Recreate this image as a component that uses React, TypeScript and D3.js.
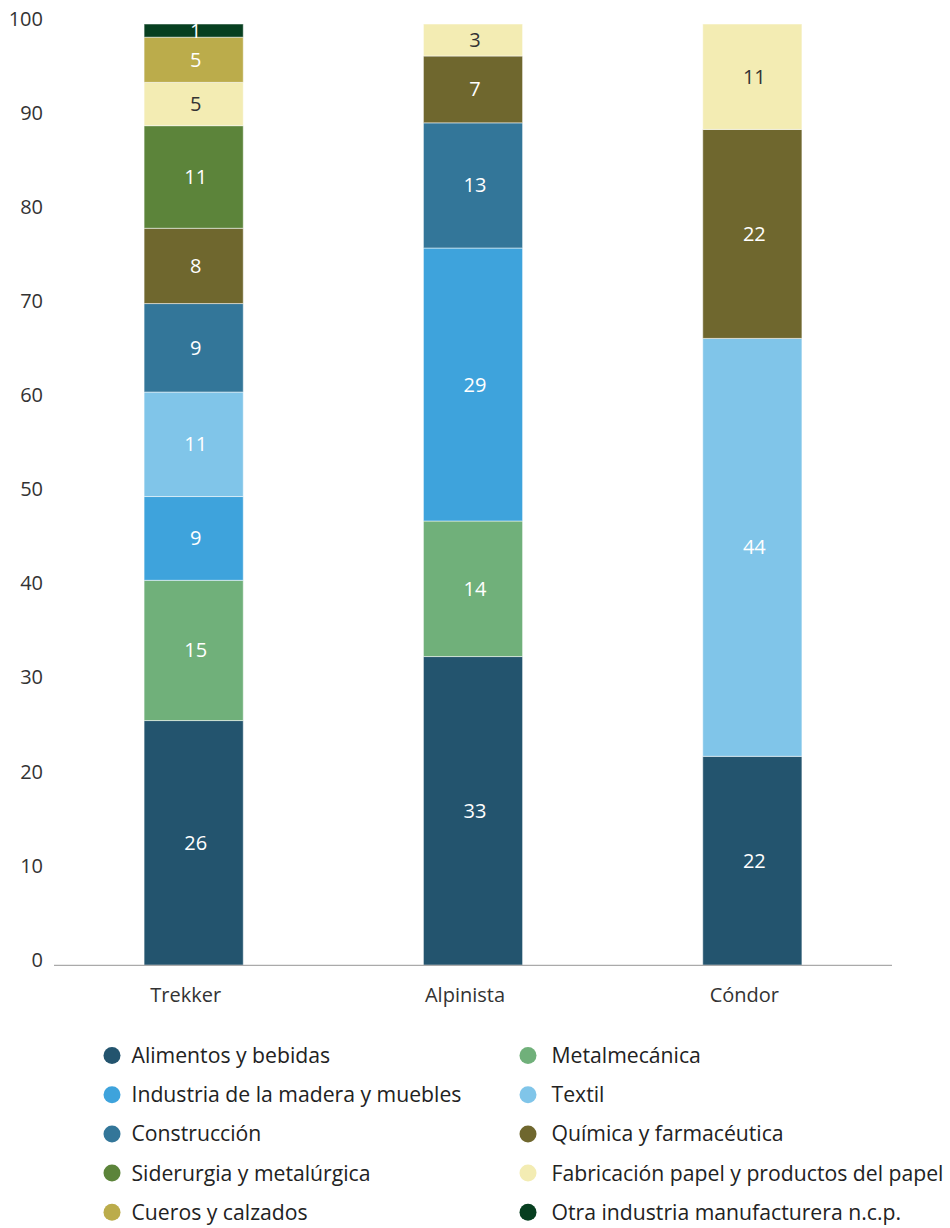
import React from "react";
import * as d3 from "d3";

const categories = ["Trekker", "Alpinista", "Cóndor"];

const sectors = [
  "Alimentos y bebidas",
  "Metalmecánica",
  "Industria de la madera y muebles",
  "Textil",
  "Construcción",
  "Química y farmacéutica",
  "Siderurgia y metalúrgica",
  "Fabricación papel y productos del papel",
  "Cueros y calzados",
  "Otra industria manufacturera n.c.p.",
];

const sectorColors = [
  "#23546e",
  "#70b07a",
  "#3ea3dc",
  "#80c5e9",
  "#337699",
  "#6f672e",
  "#5c843a",
  "#f3ecb3",
  "#bbac4b",
  "#073f20",
];

// values per sector, in order of categories [Trekker, Alpinista, Cóndor]
const alimentos = [26.0, 32.8, 22.2];
const metalmecanica = [14.9, 14.4, 0];
const madera = [8.9, 29.0, 0];
const textil = [11.1, 0, 44.4];
const construccion = [9.4, 13.3, 0];
const quimica = [8.0, 7.1, 22.2];
const siderurgia = [10.9, 0, 0];
const papel = [4.6, 3.4, 11.2];
const cueros = [4.8, 0, 0];
const otra = [1.4, 0, 0];

const seriesValues = [alimentos, metalmecanica, madera, textil, construccion, quimica, siderurgia, papel, cueros, otra];

const yTicks = [0, 10, 20, 30, 40, 50, 60, 70, 80, 90, 100];

// legend order (two columns, row-major)
const legendOrder = [0, 1, 2, 3, 4, 5, 6, 7, 8, 9];

const darkText = new Set([7]);

const FONT = "'Open Sans', 'Noto Sans', sans-serif";

export default function App() {
  const width = 950;
  const height = 1228;
  const x0 = 54;
  const x1 = 892;
  const yBottom = 965.3;
  const yTop = 24;

  const x = d3
    .scaleBand<string>()
    .domain(categories)
    .range([x0, x1])
    .paddingInner(0.645)
    .paddingOuter(0.3225);
  const y = d3.scaleLinear().domain([0, 100]).range([yBottom, yTop]);

  const rows = categories.map((c, ci) => {
    const r: any = { cat: c };
    sectors.forEach((s, si) => (r[s] = seriesValues[si][ci]));
    return r;
  });
  const stack = d3.stack<any>().keys(sectors)(rows);

  return (
    <svg
      width={width}
      height={height}
      style={{ position: "absolute", left: 0, top: 0, background: "#fff" }}
      fontFamily={FONT}
    >
      {/* y tick labels */}
      {yTicks.map((t) => (
        <text key={t} x={43} y={y(t) + 1.5} textAnchor="end" fontSize={20} fill="#333">
          {t}
        </text>
      ))}
      {/* bars */}
      {stack.map((layer, si) => (
        <g key={sectors[si]}>
          {layer.map((d, ci) => {
            const v = d[1] - d[0];
            if (v <= 0) return null;
            const bx = x(categories[ci])!;
            const yt = y(d[1]);
            const yb = y(d[0]);
            return (
              <g key={ci}>
                <rect
                  x={bx}
                  y={yt}
                  width={x.bandwidth()}
                  height={yb - yt}
                  fill={sectorColors[si]}
                  stroke="#ffffff"
                  strokeOpacity={0.5}
                  strokeWidth={1}
                />
                <text
                  x={bx + x.bandwidth() / 2 + 2}
                  y={(yt + yb) / 2}
                  dy="0.35em"
                  textAnchor="middle"
                  fontSize={20}
                  fill={darkText.has(si) ? "#333" : "#fff"}
                >
                  {Math.round(v)}
                </text>
              </g>
            );
          })}
        </g>
      ))}
      {/* x axis line */}
      <line x1={x0} x2={x1} y1={yBottom} y2={yBottom} stroke="#aaa" strokeWidth={1.2} />
      {categories.map((c) => (
        <text
          key={c}
          x={x(c)! + x.bandwidth() / 2 - 8}
          y={1002}
          textAnchor="middle"
          fontSize={20}
          fill="#333"
        >
          {c}
        </text>
      ))}
      {/* legend */}
      {legendOrder.map((si, i) => {
        const col = i % 2;
        const row = Math.floor(i / 2);
        const cx = col === 0 ? 112 : 528;
        const tx = col === 0 ? 131.5 : 551.5;
        const cy = 1055.5 + row * 39.2;
        return (
          <g key={sectors[si]}>
            <circle cx={cx} cy={cy} r={8.5} fill={sectorColors[si]} />
            <text x={tx} y={cy} dy="0.35em" fontSize={21.2} fill="#222">
              {sectors[si]}
            </text>
          </g>
        );
      })}
    </svg>
  );
}
